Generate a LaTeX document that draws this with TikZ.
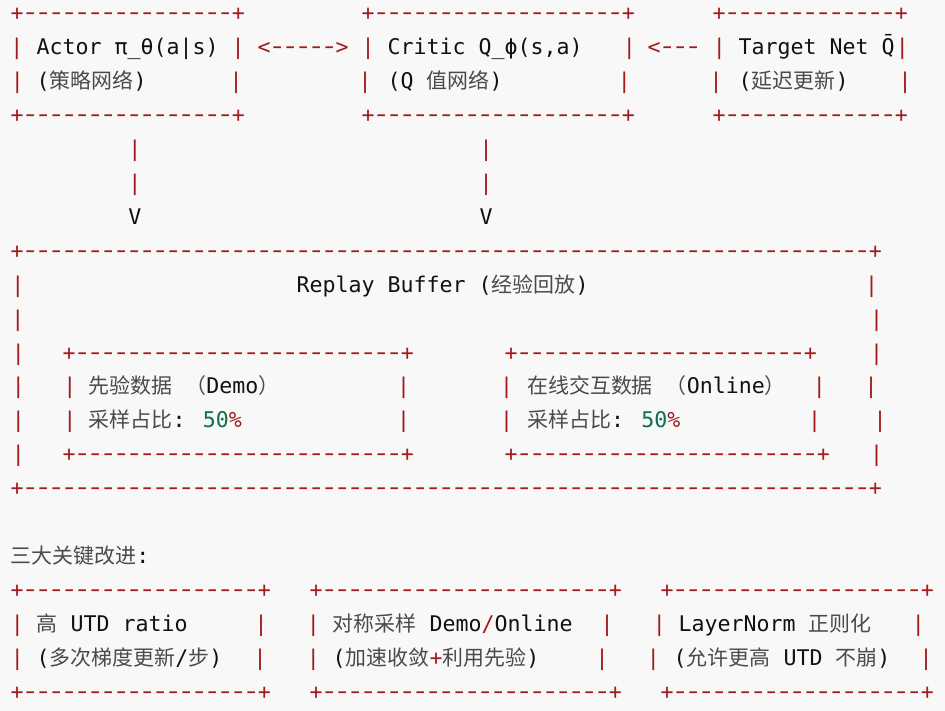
\documentclass[tikz,border=0pt]{standalone}
\usepackage{fontspec}
\usepackage{graphicx}
\newfontfamily\mono{DejaVu Sans Mono}
\newfontfamily\cjk{Noto Sans CJK SC}[Scale=0.97]
\definecolor{framered}{HTML}{A31A1A}
\definecolor{inkblack}{HTML}{111111}
\definecolor{zhgray}{HTML}{4A4A4A}
\definecolor{numgreen}{HTML}{0E6E4E}
\definecolor{paper}{HTML}{F8F8F8}
\newcommand\dashglyph{\makebox[0.602em]{\scalebox{0.68}[1]{−}}}
\newcommand\dashrun[1]{\foreach\k in {1,...,#1}{\dashglyph}}
\newcommand\zh[1]{{\cjk\color{zhgray}#1}}
\newcommand\rd[1]{{\color{framered}#1}}
\newcommand\share{\zh{采样占比}: {\color{numgreen}50}\rd{\%}}
\begin{document}
\begin{tikzpicture}[x=1pt,y=-1pt,
  txt/.style={anchor=base west,inner sep=0pt,font=\mono\fontsize{21.6}{26}\selectfont,text=inkblack},
  rule/.style={txt,text=framered},
  bar/.style={anchor=base,inner sep=0pt,font=\mono\fontsize{21.6}{26}\selectfont,text=framered},
  vtip/.style={bar,text=inkblack}]
\fill[paper] (0,0) rectangle (945,711);
\useasboundingbox (0,0) rectangle (945,711);
% top row: actor, critic, target net
\node[rule] (actor-top) at (10.5,20.5) {+\dashrun{16}+};
\node[rule] (critic-top) at (361.5,20.5) {+\dashrun{19}+};
\node[rule] (target-top) at (712.5,20.5) {+\dashrun{13}+};
\node[bar] (actor-l1) at (17,54.45) {|};
\node[txt] (actor) at (36.5,54.45) {Actor π\_θ(a|s)};
\node[bar] (actor-r1) at (238,54.45) {|};
\node[rule] (ac-arrow) at (257.5,54.45) {<\dashrun{5}>};
\node[bar] (critic-l1) at (368,54.45) {|};
\node[txt] (critic) at (387.5,54.45) {Critic Q\_ϕ(s,a)};
\node[bar] (critic-r1) at (629.3,54.45) {|};
\node[rule] (tc-arrow) at (647.5,54.45) {<\dashrun{3}};
\node[bar] (target-l1) at (719.3,54.45) {|};
\node[txt] (target) at (738.5,54.45) {Target Net Q̄};
\node[bar] (target-r1) at (902.3,54.45) {|};
\node[bar] (actor-l2) at (17.3,88.4) {|};
\node[txt] (actor-sub) at (36.5,88.4) {(\zh{策略网络})};
\node[bar] (actor-r2) at (236,88.4) {|};
\node[bar] (critic-l2) at (365,88.4) {|};
\node[txt] (critic-sub) at (387.5,88.4) {(Q \zh{值网络})};
\node[bar] (critic-r2) at (624.3,88.4) {|};
\node[bar] (target-l2) at (716,88.4) {|};
\node[txt] (target-sub) at (738.5,88.4) {(\zh{延迟更新})};
\node[bar] (target-r2) at (905,88.4) {|};
\node[rule] (actor-bot) at (10.5,122.35) {+\dashrun{16}+};
\node[rule] (critic-bot) at (361.5,122.35) {+\dashrun{19}+};
\node[rule] (target-bot) at (712.5,122.35) {+\dashrun{13}+};
% down arrows into the buffer
\node[bar] (down-a1) at (135,156.3) {|};
\node[bar] (down-a2) at (135,190.25) {|};
\node[vtip] (down-a3) at (135,224.2) {V};
\node[bar] (down-c1) at (486,156.3) {|};
\node[bar] (down-c2) at (486,190.25) {|};
\node[vtip] (down-c3) at (486,224.2) {V};
% replay buffer
\node[rule] (buf-top) at (10.5,258.15) {+\dashrun{65}+};
\node[bar] (buf-l8) at (17.8,292.1) {|};
\node[txt] (buffer) at (296.5,292.1) {Replay Buffer (\zh{经验回放})};
\node[bar] (buf-r8) at (871.7,292.1) {|};
\node[bar] (buf-l9) at (17.8,326.05) {|};
\node[bar] (buf-r9) at (876.7,326.05) {|};
\node[bar] (buf-l10) at (18.3,360) {|};
\node[rule] (demo-top) at (62.5,360) {+\dashrun{25}+};
\node[rule] (online-top) at (504.5,360) {+\dashrun{22}+};
\node[bar] (buf-r10) at (876.7,360) {|};
\node[bar] (buf-l11) at (18.3,393.95) {|};
\node[bar] (demo-l11) at (70,393.95) {|};
\node[txt] (demo) at (88.5,393.95) {\zh{先验数据} \zh{（}Demo\zh{）}};
\node[bar] (demo-r11) at (403.7,393.95) {|};
\node[bar] (online-l11) at (506.7,393.95) {|};
\node[txt] (online) at (527,393.95) {\zh{在线交互数据} \zh{（}Online\zh{）}};
\node[bar] (online-r11) at (819.3,393.95) {|};
\node[bar] (buf-r11) at (871,393.95) {|};
\node[bar] (buf-l12) at (18.3,427.9) {|};
\node[bar] (demo-l12) at (70,427.9) {|};
\node[txt] (demo-share) at (88.5,427.9) {\share};
\node[bar] (demo-r12) at (403.7,427.9) {|};
\node[bar] (online-l12) at (506.7,427.9) {|};
\node[txt] (online-share) at (527,427.9) {\share};
\node[bar] (online-r12) at (814.5,427.9) {|};
\node[bar] (buf-r12) at (880,427.9) {|};
\node[bar] (buf-l13) at (18.3,461.85) {|};
\node[rule] (demo-bot) at (62.5,461.85) {+\dashrun{25}+};
\node[rule] (online-bot) at (504.5,461.85) {+\dashrun{23}+};
\node[bar] (buf-r13) at (876.7,461.85) {|};
\node[rule] (buf-bot) at (10.5,495.8) {+\dashrun{65}+};
% three improvements
\node[txt] (title) at (10.5,563.7) {\zh{三大关键改进}:};
\node[rule] (utd-top) at (10.5,597.65) {+\dashrun{18}+};
\node[rule] (sym-top) at (309.5,597.65) {+\dashrun{22}+};
\node[rule] (ln-top) at (660.5,597.65) {+\dashrun{19}+};
\node[bar] (utd-l1) at (17.3,631.6) {|};
\node[txt] (utd) at (36.5,631.6) {\zh{高} UTD ratio};
\node[bar] (utd-r1) at (261,631.6) {|};
\node[bar] (sym-l1) at (313.3,631.6) {|};
\node[txt] (sym) at (332.5,631.6) {\zh{对称采样} Demo\rd{/}Online};
\node[bar] (sym-r1) at (607,631.6) {|};
\node[bar] (ln-l1) at (659.3,631.6) {|};
\node[txt] (ln) at (678.5,631.6) {LayerNorm \zh{正则化}};
\node[bar] (ln-r1) at (918.3,631.6) {|};
\node[bar] (utd-l2) at (17.3,665.55) {|};
\node[txt] (utd-sub) at (36.5,665.55) {(\zh{多次梯度更新}/\zh{步})};
\node[bar] (utd-r2) at (260,665.55) {|};
\node[bar] (sym-l2) at (313.3,665.55) {|};
\node[txt] (sym-sub) at (332.5,665.55) {(\zh{加速收敛}\rd{+}\zh{利用先验})};
\node[bar] (sym-r2) at (602,665.55) {|};
\node[bar] (ln-l2) at (653.3,665.55) {|};
\node[txt] (ln-sub) at (673.5,665.55) {(\zh{允许更高} UTD \zh{不崩})};
\node[bar] (ln-r2) at (926,665.55) {|};
\node[rule] (utd-bot) at (10.5,699.5) {+\dashrun{18}+};
\node[rule] (sym-bot) at (309.5,699.5) {+\dashrun{22}+};
\node[rule] (ln-bot) at (660.5,699.5) {+\dashrun{19}+};
\end{tikzpicture}
\end{document}
